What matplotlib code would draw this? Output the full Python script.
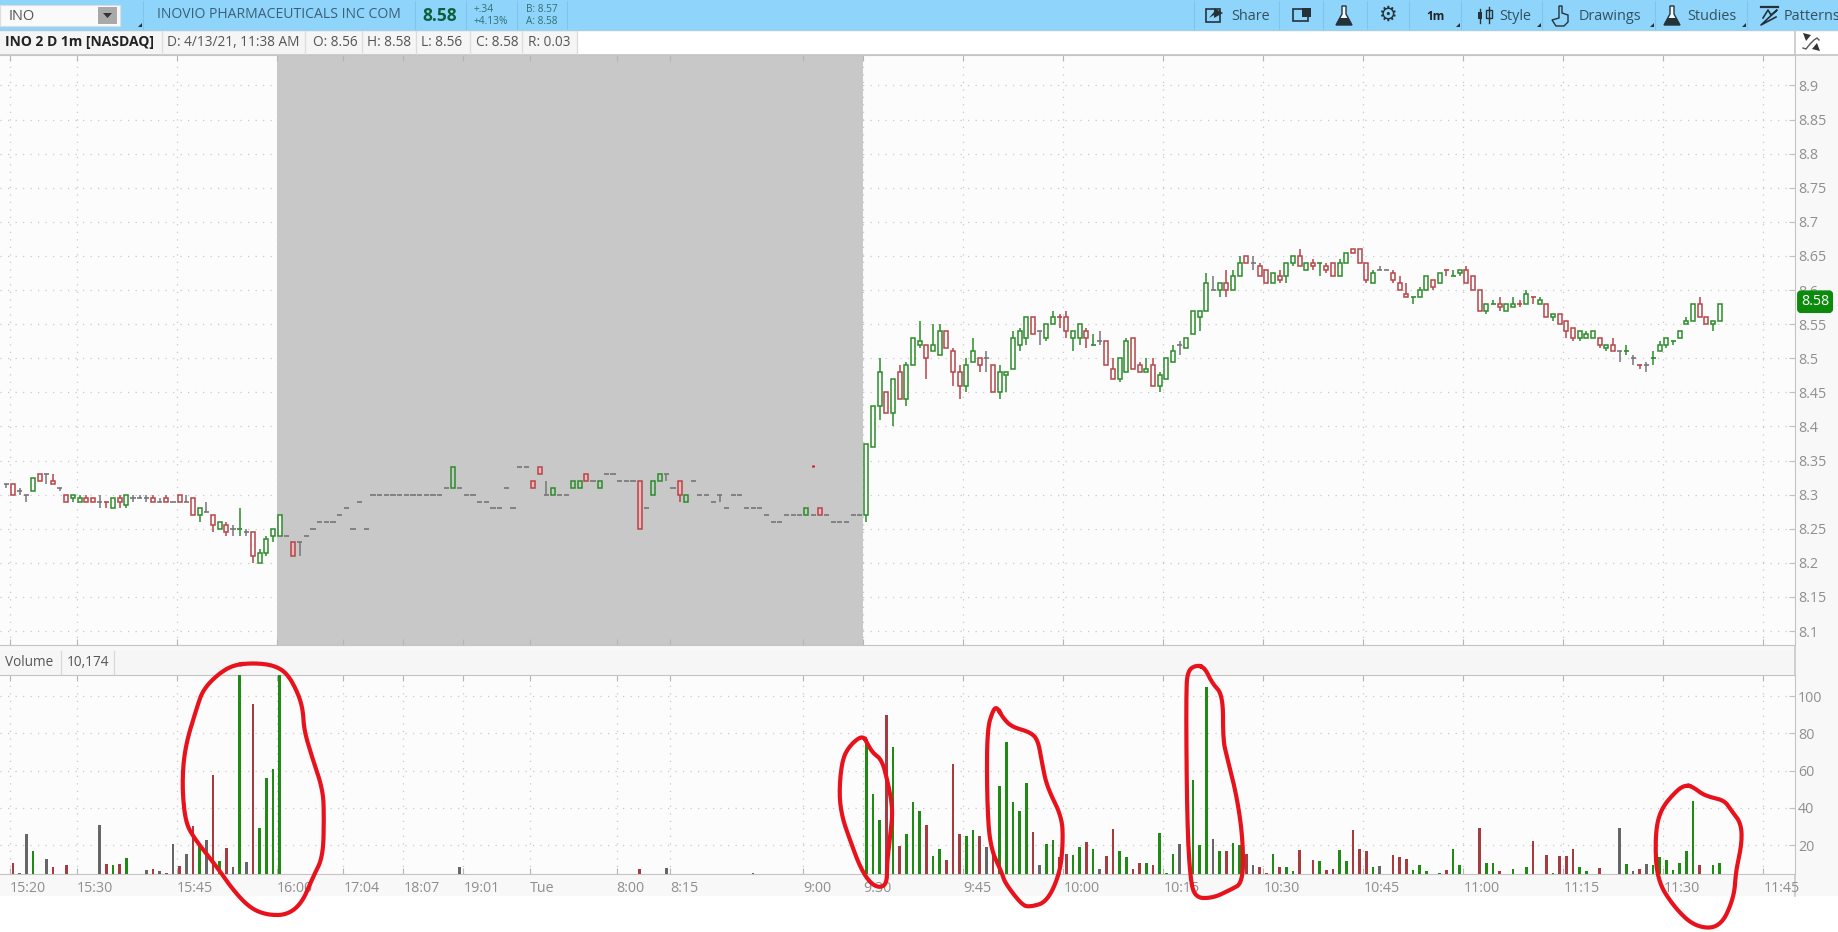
import numpy as np
import matplotlib
matplotlib.use('Agg')
import matplotlib.pyplot as plt
from matplotlib.patches import Rectangle, Polygon

plt.rcParams['font.family'] = ['Open Sans', 'DejaVu Sans']

# 1 minute bars, first bar is 15:19 (slot -1), one row = 10 slots
first_slot = -1
opens = [8.315,8.315,8.305,8.30,8.305,8.33,8.33,8.32,8.31,8.30,
    8.295,8.29,8.295,8.295,8.29,8.29,8.28,8.295,8.285,8.295,
    8.295,8.295,8.295,8.29,8.295,8.29,8.30,8.29,8.295,8.27,
    8.275,8.27,8.25,8.255,8.25,8.25,8.245,8.245,8.20,8.215,
    8.24,8.24,8.24,8.23,8.23,8.24,8.25,8.26,8.26,8.26,
    8.27,8.28,8.25,8.29,8.25,8.30,8.30,8.30,8.30,8.30,
    8.30,8.30,8.30,8.30,8.30,8.30,8.31,8.31,8.31,8.30,
    8.30,8.29,8.29,8.28,8.28,8.31,8.28,8.34,8.34,8.32,
    8.34,8.30,8.30,8.30,8.30,8.31,8.31,8.33,8.32,8.31,
    8.33,8.33,8.32,8.32,8.32,8.32,8.28,8.30,8.32,8.33,
    8.31,8.32,8.29,8.32,8.30,8.30,8.29,8.30,8.28,8.30,
    8.30,8.28,8.28,8.28,8.27,8.26,8.26,8.27,8.27,8.27,
    8.27,8.27,8.28,8.27,8.26,8.26,8.26,8.27,8.27,8.27,
    8.37,8.43,8.45,8.42,8.48,8.44,8.49,8.52,8.52,8.51,
    8.505,8.54,8.51,8.48,8.46,8.495,8.50,8.50,8.49,8.45,
    8.475,8.485,8.52,8.53,8.56,8.54,8.53,8.55,8.56,8.56,
    8.53,8.53,8.54,8.52,8.525,8.525,8.485,8.47,8.48,8.53,
    8.49,8.48,8.49,8.46,8.47,8.495,8.52,8.515,8.535,8.56,
    8.57,8.60,8.60,8.61,8.60,8.62,8.65,8.64,8.635,8.63,
    8.61,8.62,8.62,8.64,8.65,8.63,8.64,8.64,8.635,8.64,
    8.62,8.64,8.66,8.66,8.64,8.61,8.63,8.63,8.625,8.61,
    8.595,8.59,8.59,8.60,8.615,8.61,8.63,8.62,8.625,8.63,
    8.62,8.60,8.57,8.58,8.58,8.57,8.575,8.58,8.58,8.59,
    8.58,8.58,8.56,8.565,8.555,8.545,8.53,8.53,8.53,8.53,
    8.515,8.52,8.51,8.51,8.50,8.49,8.49,8.50,8.51,8.52,
    8.525,8.53,8.55,8.555,8.58,8.56,8.55,8.555]
highs = [8.315,8.315,8.31,8.30,8.325,8.33,8.33,8.33,8.31,8.30,
    8.30,8.30,8.30,8.295,8.30,8.29,8.295,8.30,8.30,8.30,
    8.30,8.30,8.30,8.295,8.30,8.29,8.30,8.30,8.295,8.28,
    8.29,8.27,8.26,8.26,8.255,8.28,8.25,8.245,8.22,8.24,
    8.25,8.27,8.24,8.23,8.23,8.24,8.25,8.26,8.26,8.26,
    8.27,8.28,8.25,8.29,8.25,8.30,8.30,8.30,8.30,8.30,
    8.30,8.30,8.30,8.30,8.30,8.30,8.31,8.34,8.31,8.30,
    8.30,8.29,8.29,8.28,8.28,8.31,8.28,8.34,8.34,8.32,
    8.34,8.32,8.31,8.30,8.30,8.32,8.32,8.33,8.32,8.32,
    8.33,8.33,8.32,8.32,8.32,8.32,8.28,8.32,8.33,8.33,
    8.31,8.32,8.30,8.32,8.30,8.30,8.29,8.30,8.28,8.30,
    8.30,8.28,8.28,8.28,8.27,8.26,8.26,8.27,8.27,8.27,
    8.28,8.27,8.28,8.27,8.26,8.26,8.26,8.27,8.27,8.375,
    8.43,8.50,8.45,8.47,8.49,8.495,8.53,8.555,8.52,8.55,
    8.55,8.54,8.515,8.49,8.50,8.53,8.50,8.51,8.49,8.49,
    8.48,8.54,8.545,8.56,8.56,8.54,8.55,8.57,8.565,8.57,
    8.54,8.55,8.545,8.535,8.54,8.525,8.50,8.50,8.53,8.53,
    8.495,8.50,8.50,8.48,8.50,8.52,8.525,8.53,8.57,8.57,
    8.625,8.62,8.61,8.63,8.63,8.65,8.65,8.65,8.64,8.63,
    8.625,8.63,8.64,8.65,8.66,8.64,8.645,8.64,8.64,8.64,
    8.645,8.655,8.66,8.66,8.64,8.63,8.635,8.63,8.63,8.62,
    8.61,8.59,8.605,8.62,8.615,8.625,8.63,8.63,8.63,8.635,
    8.62,8.60,8.58,8.585,8.59,8.58,8.59,8.585,8.60,8.59,
    8.59,8.58,8.565,8.565,8.555,8.545,8.54,8.54,8.54,8.53,
    8.52,8.53,8.51,8.52,8.505,8.49,8.495,8.51,8.525,8.53,
    8.525,8.54,8.56,8.58,8.59,8.56,8.555,8.58]
lows = [8.31,8.30,8.30,8.29,8.305,8.32,8.315,8.315,8.305,8.29,
    8.29,8.29,8.29,8.29,8.28,8.28,8.28,8.28,8.28,8.29,
    8.295,8.29,8.29,8.29,8.29,8.29,8.29,8.29,8.27,8.26,
    8.275,8.245,8.25,8.24,8.24,8.24,8.24,8.20,8.20,8.21,
    8.23,8.24,8.24,8.21,8.21,8.24,8.25,8.26,8.26,8.26,
    8.27,8.28,8.25,8.29,8.25,8.30,8.30,8.30,8.30,8.30,
    8.30,8.30,8.30,8.30,8.30,8.30,8.31,8.31,8.31,8.30,
    8.30,8.29,8.29,8.28,8.28,8.31,8.28,8.34,8.34,8.31,
    8.33,8.30,8.30,8.30,8.30,8.31,8.31,8.32,8.32,8.31,
    8.33,8.33,8.32,8.32,8.32,8.25,8.28,8.30,8.32,8.32,
    8.31,8.29,8.29,8.32,8.30,8.30,8.29,8.29,8.28,8.30,
    8.30,8.28,8.28,8.28,8.27,8.26,8.26,8.27,8.27,8.27,
    8.27,8.27,8.27,8.27,8.26,8.26,8.26,8.27,8.27,8.26,
    8.37,8.41,8.42,8.40,8.44,8.43,8.49,8.515,8.47,8.51,
    8.505,8.515,8.46,8.44,8.45,8.495,8.48,8.48,8.45,8.44,
    8.45,8.485,8.51,8.52,8.535,8.52,8.525,8.55,8.545,8.53,
    8.51,8.52,8.515,8.52,8.52,8.49,8.47,8.465,8.48,8.485,
    8.48,8.48,8.46,8.45,8.47,8.495,8.505,8.515,8.535,8.54,
    8.57,8.60,8.59,8.59,8.60,8.62,8.64,8.63,8.62,8.61,
    8.61,8.61,8.61,8.635,8.635,8.63,8.63,8.62,8.625,8.62,
    8.62,8.64,8.655,8.64,8.61,8.61,8.63,8.63,8.61,8.60,
    8.59,8.58,8.59,8.60,8.60,8.61,8.62,8.62,8.62,8.61,
    8.60,8.57,8.565,8.58,8.57,8.57,8.575,8.575,8.58,8.58,
    8.58,8.56,8.555,8.55,8.53,8.525,8.525,8.53,8.53,8.515,
    8.51,8.51,8.495,8.505,8.49,8.485,8.48,8.49,8.51,8.515,
    8.52,8.53,8.55,8.555,8.56,8.55,8.54,8.555]
closes = [8.315,8.30,8.305,8.30,8.325,8.32,8.33,8.315,8.31,8.29,
    8.30,8.295,8.29,8.29,8.29,8.29,8.295,8.29,8.30,8.295,
    8.295,8.295,8.29,8.29,8.29,8.29,8.29,8.29,8.27,8.28,
    8.275,8.255,8.26,8.245,8.25,8.25,8.245,8.21,8.215,8.235,
    8.25,8.27,8.24,8.21,8.23,8.24,8.25,8.26,8.26,8.26,
    8.27,8.28,8.25,8.29,8.25,8.30,8.30,8.30,8.30,8.30,
    8.30,8.30,8.30,8.30,8.30,8.30,8.31,8.34,8.31,8.30,
    8.30,8.29,8.29,8.28,8.28,8.31,8.28,8.34,8.34,8.31,
    8.33,8.30,8.31,8.30,8.30,8.32,8.32,8.32,8.32,8.32,
    8.33,8.33,8.32,8.32,8.32,8.25,8.28,8.32,8.33,8.33,
    8.31,8.30,8.30,8.32,8.30,8.30,8.29,8.30,8.28,8.30,
    8.30,8.28,8.28,8.28,8.27,8.26,8.26,8.27,8.27,8.27,
    8.28,8.27,8.27,8.27,8.26,8.26,8.26,8.27,8.27,8.375,
    8.43,8.48,8.42,8.47,8.44,8.49,8.53,8.525,8.50,8.52,
    8.54,8.515,8.48,8.46,8.49,8.51,8.49,8.50,8.45,8.48,
    8.48,8.53,8.54,8.56,8.535,8.54,8.55,8.56,8.56,8.54,
    8.54,8.55,8.53,8.52,8.525,8.49,8.47,8.50,8.525,8.485,
    8.48,8.485,8.46,8.475,8.50,8.51,8.52,8.53,8.57,8.57,
    8.61,8.60,8.61,8.60,8.62,8.64,8.64,8.64,8.62,8.61,
    8.625,8.615,8.64,8.65,8.635,8.64,8.635,8.64,8.63,8.62,
    8.64,8.655,8.655,8.64,8.615,8.625,8.63,8.63,8.615,8.60,
    8.59,8.59,8.60,8.62,8.605,8.625,8.63,8.62,8.63,8.61,
    8.60,8.57,8.58,8.58,8.575,8.58,8.58,8.58,8.595,8.59,
    8.585,8.56,8.565,8.55,8.54,8.53,8.54,8.535,8.54,8.52,
    8.52,8.51,8.51,8.51,8.50,8.49,8.49,8.50,8.52,8.53,
    8.525,8.54,8.555,8.58,8.56,8.55,8.555,8.58]
# g up, r down, k unchanged
bar_colors = ('krkkgrkrkr' 'ggrrkrgrgk' 'kkrkrkrkrg' 'krgrkgkrgg' 'ggkrkkkkkk'
    'kkkkkkkkkk' 'kkkkkkkgkk' 'kkkkkkkkkr' 'rkgkkggrkg' 'kkkkkrkggk'
    'krgkkkkkkk' 'kkkkkkkkkk' 'gkrkkkkkkg' 'ggrgrgggrg' 'grrrggrkrg'
    'ggggrkggrr' 'ggrgkrrggr' 'rgrgggkggg' 'gkgrggrkrr' 'grggrgrgrr'
    'ggrrrgkkrr' 'rgggrgrggr' 'rrggrggrgr' 'grgrrrgggr' 'grkgkrkggg'
    'ggggrrgg')

volumes = [0,10.5,5,26,17,0,12.5,8,0,9,
    0,0,0,0,31,10,9,10,13,0,
    0,6.5,7,6,5,20.7,8.5,15,30,20,
    22.7,57.6,11.4,18.6,8,115,11,95.7,29,56,
    61,115,0,0,0,0,0,0,0,0,
    0,0,0,0,0,0,0,0,0,0,
    0,0,0,0,0,0,0,0,8,0,
    0,0,0,0,0,0,0,0,0,0,
    0,0,0,0,0,0,0,0,0,0,
    0,0,0,0,0,7.2,0,0,0,7.5,
    0,0,0,0,0,0,0,0,0,0,
    0,0,5,0,0,0,0,0,0,0,
    0,0,0,0,0,0,0,0,0,75,
    47.4,33.4,90,72.8,19.5,26,43,38,30.7,14,
    18,12,63.5,26,25,28,25,19,15,51.7,
    75.5,43,38,53.5,27,9,20.7,22.7,13.4,15,
    14.6,19,21.4,18,7,14,28.6,17,13.4,7.3,
    10.5,10.5,9.3,26.6,5,15.3,20.7,0,55,20,
    104.6,23,17,16.6,21,20,15,9,8,4.8,
    15,8.4,8,5.9,17.3,0,12,11.2,6.6,7.3,
    17.3,11.2,28,17.9,16.6,8.4,8.5,0,14.6,13.4,
    12.5,6.6,9.3,5.9,0,5,6.6,17.9,9.3,0,
    0,29.3,10.5,10.5,5.9,0,7.3,0,8,22,
    0,14.6,5,14,14,17.9,8.4,5.9,0,7.8,
    0,0,29.3,10,5.9,7.3,10,9.3,13.4,12,
    6.6,10.5,16.6,43.4,9.3,0,9.3,10.5]

# stray print at the 9:00 bar
stray_slot = [120]
stray_price = [8.342]

tick_slots = [0,10,25,40,50,59,68,78,91,99,119,128,143,158,173,188,203,218,233,248,263]
tick_labels = ['15:20','15:30','15:45','16:00','17:04','18:07','19:01','Tue','8:00','8:15','9:00',
    '9:30','9:45','10:00','10:15','10:30','10:45','11:00','11:15','11:30','11:45']
price_ticks = [8.1,8.15,8.2,8.25,8.3,8.35,8.4,8.45,8.5,8.55,8.6,8.65,8.7,8.75,8.8,8.85,8.9]
volume_ticks = [20,40,60,80,100]
closed_from, closed_to = 40, 128   # grey block, 16:00 to 9:30

# sizes in pixels, everything else is placed from these
W, H = 1838, 932
PANE_R = 1795
BAR_PX = 6.667
TICK_SHIFT = -0.45

GREEN, RED, GREY = '#2c8c2c', '#b8444a', '#767676'
VGREEN, VRED, VGREY = '#1f8a14', '#a63c40', '#666666'
TXT, AXTXT = '#555555', '#8f8f8f'


def axes_px(x0, y0, x1, y1, **kw):
    return fig.add_axes([x0 / W, 1 - y1 / H, (x1 - x0) / W, (y1 - y0) / H], **kw)


def chaikin(pts, n=3):
    pts = np.array(pts, dtype=float)
    for i in range(n):
        nxt = np.roll(pts, -1, axis=0)
        pts = np.column_stack([.75 * pts + .25 * nxt, .25 * pts + .75 * nxt]).reshape(-1, 2)
    return np.vstack([pts, pts[0]])


fig = plt.figure(figsize=(W / 100, H / 100), dpi=100, facecolor='white')

# window chrome behind the panes
bg = axes_px(0, 0, W, H)
bg.set_xlim(0, W)
bg.set_ylim(H, 0)
bg.axis('off')
bg.set_zorder(-1)
bg.add_patch(Rectangle((0, 55), W, 841, fc='#f8f8f8', ec='none'))
bg.add_patch(Rectangle((0, 0), W, 30, fc='#8fd5fb', ec='none'))
bg.add_patch(Rectangle((0, 30), 577, 25, fc='#f5f5f5', ec='none'))
bg.add_patch(Rectangle((0, 650), PANE_R, 25, fc='#f6f6f6', ec='none'))
bg.add_patch(Rectangle((0, 5), 120, 21, fc='#fafafa', ec='#dddddd', lw=.8))
bg.add_patch(Rectangle((98, 7), 19, 17, fc='#a9a9a9', ec='none'))
bg.add_patch(Polygon([(103, 13), (112, 13), (107.5, 18)], fc='#333333'))
bg.plot([0, W], [30, 30], color='#a9cfe4', lw=1)
bg.plot([0, W], [55, 55], color='#c4c4c4', lw=1.2)
bg.plot([PANE_R, PANE_R], [30, 896], color='#c8c8c8', lw=1.2)
for x in [162, 305, 362, 416, 470, 522, 577]:
    bg.plot([x, x], [31, 54], color='#dcdcdc', lw=.9)
for x in [61, 114]:
    bg.plot([x, x], [651, 674], color='#d8d8d8', lw=.9)
for x in [143, 415, 466, 517, 567, 1194, 1279, 1323, 1367, 1409, 1461, 1542, 1655, 1747]:
    bg.plot([x, x], [1, 29], color='#7fc4ea', lw=.8)
bg.text(9, 16, 'INO', fontsize=10.5, color='#555555', va='center')
bg.text(157, 15, 'INOVIO PHARMACEUTICALS INC COM', fontsize=10.1, color='#3a5f78', va='center')
bg.text(422, 16, '8.58', fontsize=12.5, fontweight='bold', color='#0d5f3c', va='center')
bg.text(474, 10, '+.34', fontsize=7.3, color='#336e70', va='center')
bg.text(474, 21, '+4.13%', fontsize=7.3, color='#336e70', va='center')
bg.text(526, 10, 'B: 8.57', fontsize=7.3, color='#336e70', va='center')
bg.text(526, 21, 'A: 8.58', fontsize=7.3, color='#336e70', va='center')
for x, s, fw in [(5, 'INO 2 D 1m [NASDAQ]', 'bold'), (167, 'D: 4/13/21, 11:38 AM', 'normal'),
                 (313, 'O: 8.56', 'normal'), (367, 'H: 8.58', 'normal'), (421, 'L: 8.56', 'normal'),
                 (476, 'C: 8.58', 'normal'), (528, 'R: 0.03', 'normal')]:
    bg.text(x, 42, s, fontsize=10 if fw == 'bold' else 9.8, fontweight=fw,
            color='#222222' if fw == 'bold' else TXT, va='center')
for x, s in [(1231, 'Share'), (1499, 'Style'), (1579, 'Drawings'), (1687, 'Studies'), (1784, 'Patterns')]:
    bg.text(x, 16, s, fontsize=10.4, color='#33505f', va='center')
bg.text(1426, 16, '1m', fontsize=8.6, fontweight='bold', color='#222222', va='center')
bg.text(5, 662.5, 'Volume', fontsize=9.8, color=TXT, va='center')
bg.text(67, 662.5, '10,174', fontsize=9.8, color=TXT, va='center')

# rough toolbar icons
bg.add_patch(Rectangle((1206, 9), 14, 13, fc='none', ec='#26323a', lw=1.2))
bg.add_patch(Polygon([(1209, 18), (1214, 12), (1214, 8), (1223, 13), (1214, 18), (1214, 15)], fc='#26323a'))
bg.add_patch(Rectangle((1293, 9), 15, 12, fc='none', ec='#26323a', lw=1.2))
bg.add_patch(Polygon([(1302, 8), (1311, 8), (1311, 17), (1302, 17)], fc='#26323a'))
for x in [1344, 1672]:
    bg.add_patch(Polygon([(x - 2, 6), (x + 2, 6), (x + 2, 14), (x + 8, 25), (x - 8, 25), (x - 2, 14)],
                         fc='#f0f8fc', ec='#26323a', lw=1))
    bg.add_patch(Polygon([(x - 4.5, 18), (x + 4.5, 18), (x + 8, 25), (x - 8, 25)], fc='#26323a'))
bg.text(1387, 15, '\u2699', family='DejaVu Sans', fontsize=15, color='#26323a', ha='center', va='center')
bg.plot([1480, 1480], [9, 23], color='#26323a', lw=1)
bg.add_patch(Rectangle((1478, 12), 4, 7, fc='#26323a', ec='none'))
bg.plot([1489, 1489], [7, 23], color='#26323a', lw=1)
bg.add_patch(Rectangle((1486, 10), 6, 8, fc='#8fd5fb', ec='#26323a', lw=1))
bg.add_patch(Polygon([(1559, 6), (1562, 6), (1562, 13), (1568, 15), (1568, 22), (1564, 26),
                      (1556, 26), (1552, 20), (1559, 18)], fc='none', ec='#26323a', lw=1))
bg.plot([1761, 1778], [7, 7], color='#26323a', lw=1.6)
bg.plot([1763, 1768, 1771, 1777, 1761, 1776], [18, 10, 15, 10, 25, 17], color='#26323a', lw=1.2)
# squeeze icon in the corner
bg.plot([1803, 1806, 1810, 1814, 1817, 1819], [48, 49, 44, 40, 38, 40], color='#555555', lw=1)
bg.add_patch(Polygon([(1803, 33), (1811, 35), (1806, 41)], fc='#333333'))
bg.add_patch(Polygon([(1820, 51), (1812, 49), (1817, 43)], fc='#333333'))
for x in [1461, 1542, 1655, 1747, 143]:
    bg.add_patch(Polygon([(x - 5, 27), (x - 1, 27), (x - 1, 23)], fc='#26323a'))

slots = first_slot + np.arange(len(closes))
o = np.array(opens)
h = np.array(highs)
l = np.array(lows)
c = np.array(closes)
assert len(o) == len(h) == len(l) == len(c) == len(volumes) == len(bar_colors)

# slot range shown: pixel = 13 + BAR_PX * slot
x0_slot = -13 / BAR_PX
x1_slot = (PANE_R - 13) / BAR_PX
ticks_x = [t + TICK_SHIFT for t in tick_slots]

ax = axes_px(0, 55, PANE_R, 645, facecolor='#fcfcfc')
ax.set_xlim(x0_slot, x1_slot)
ax.set_ylim(8.65 - 389 / 682, 8.65 + 201 / 682)
ax.axvspan(closed_from + TICK_SHIFT, closed_to + TICK_SHIFT, color='#c8c8c8', lw=0, zorder=0)

vol = axes_px(0, 675, PANE_R, 874, facecolor='#fcfcfc')
vol.set_xlim(x0_slot, x1_slot)
vol.set_ylim(4.43, 111.3)

for a, yt in ((ax, price_ticks), (vol, volume_ticks)):
    a.set_xticks(ticks_x)
    a.set_yticks(yt)
    a.yaxis.tick_right()
    a.set_axisbelow(True)
    a.grid(True, linestyle=(0, (1, 5)), linewidth=.9, color='#c9c9c9')
    a.tick_params(axis='x', direction='in', length=4, color='#b5b5b5', top=True, bottom=True)
    a.tick_params(axis='y', direction='in', length=4, color='#c0c0c0', labelsize=10.3,
                  labelcolor=AXTXT, pad=2)
    for s in ['left']:
        a.spines[s].set_visible(False)
    for s in ['top', 'bottom', 'right']:
        a.spines[s].set_color('#c4c4c4')
ax.set_xticklabels([])
ax.set_yticklabels(['%g' % p for p in price_ticks])
vol.set_xticklabels(tick_labels, fontsize=10.3, color=AXTXT, ha='left')
vol.tick_params(axis='x', pad=5)

# candles, hollow bodies
edge = {'g': GREEN, 'r': RED, 'k': GREY}
vedge = {'g': VGREEN, 'r': VRED, 'k': VGREY}
cols = [edge[b] for b in bar_colors]
closed = (slots > closed_from) & (slots < closed_to)
ax.vlines(slots, l, h, colors=cols, lw=1.1, zorder=3)
flat = np.abs(c - o) < 1e-9
ax.hlines(c[flat], slots[flat] - .38, slots[flat] + .38, colors=[cols[i] for i in np.where(flat)[0]], lw=1.2, zorder=3)
for i in np.where(~flat)[0]:
    fill = '#fcfcfc'
    if closed[i]:
        fill = '#e9b9b9' if bar_colors[i] == 'r' else '#c8c8c8'
    ax.bar(slots[i], abs(c[i] - o[i]), bottom=min(o[i], c[i]), width=.62, facecolor=fill,
           edgecolor=cols[i], linewidth=1.1, zorder=4)
ax.vlines(stray_slot, np.array(stray_price) - .002, np.array(stray_price) + .002, colors='#d01020', lw=2, zorder=4)

vol.bar(slots, volumes, width=.42, color=[vedge[b] for b in bar_colors], linewidth=0, zorder=3)

# last price tag, sits over the 8.6 label as in the platform
ax.text(1.0033, closes[-1] + .003, '%.2f' % closes[-1], transform=ax.get_yaxis_transform(), color='white',
        fontsize=10.3, va='center', ha='left', clip_on=False, zorder=6,
        bbox=dict(boxstyle='round,pad=0.22', fc='#0c8a0c', ec='#0c8a0c'))

# hand drawn red rings on top of everything
top = axes_px(0, 0, W, H)
top.set_xlim(0, W)
top.set_ylim(H, 0)
top.axis('off')
top.patch.set_alpha(0)
top.set_zorder(10)
ring1 = [(233, 665), (253, 663), (273, 665), (287, 673), (298, 693), (303, 710), (304, 730), (312, 757),
         (323, 790), (324, 817), (323, 857), (313, 877), (302, 903), (287, 915), (267, 915), (250, 908),
         (233, 890), (217, 867), (193, 837), (185, 820), (182, 783), (185, 747), (197, 707), (203, 690), (217, 675)]
ring2 = [(863, 735), (868, 745), (873, 753), (882, 760), (888, 783), (893, 810), (890, 837), (887, 863),
         (887, 883), (880, 888), (870, 883), (860, 867), (850, 840), (842, 817), (839, 793), (842, 760), (850, 745)]
ring3 = [(997, 707), (1003, 718), (1012, 727), (1030, 732), (1038, 740), (1042, 763), (1047, 787), (1062, 817),
         (1063, 843), (1060, 873), (1047, 902), (1030, 907), (1022, 905), (1005, 883), (1002, 873), (990, 847),
         (987, 800), (987, 730), (993, 710)]
ring4 = [(1197, 665), (1205, 668), (1212, 683), (1223, 695), (1223, 740), (1227, 757), (1237, 797), (1243, 840),
         (1243, 883), (1230, 890), (1213, 898), (1195, 898), (1190, 877), (1187, 817), (1186, 690), (1188, 670)]
ring5 = [(1686, 785), (1693, 787), (1705, 796), (1724, 800), (1731, 810), (1741, 823), (1742, 843), (1736, 870),
         (1734, 898), (1720, 928), (1695, 927), (1674, 907), (1657, 880), (1655, 837), (1660, 810), (1677, 790)]
for ring in [ring1, ring2, ring3, ring4, ring5]:
    p = chaikin(ring)
    top.plot(p[:, 0], p[:, 1], color='#e8121c', lw=3, solid_joinstyle='round', zorder=10)

fig.savefig('out.png', dpi=100)
